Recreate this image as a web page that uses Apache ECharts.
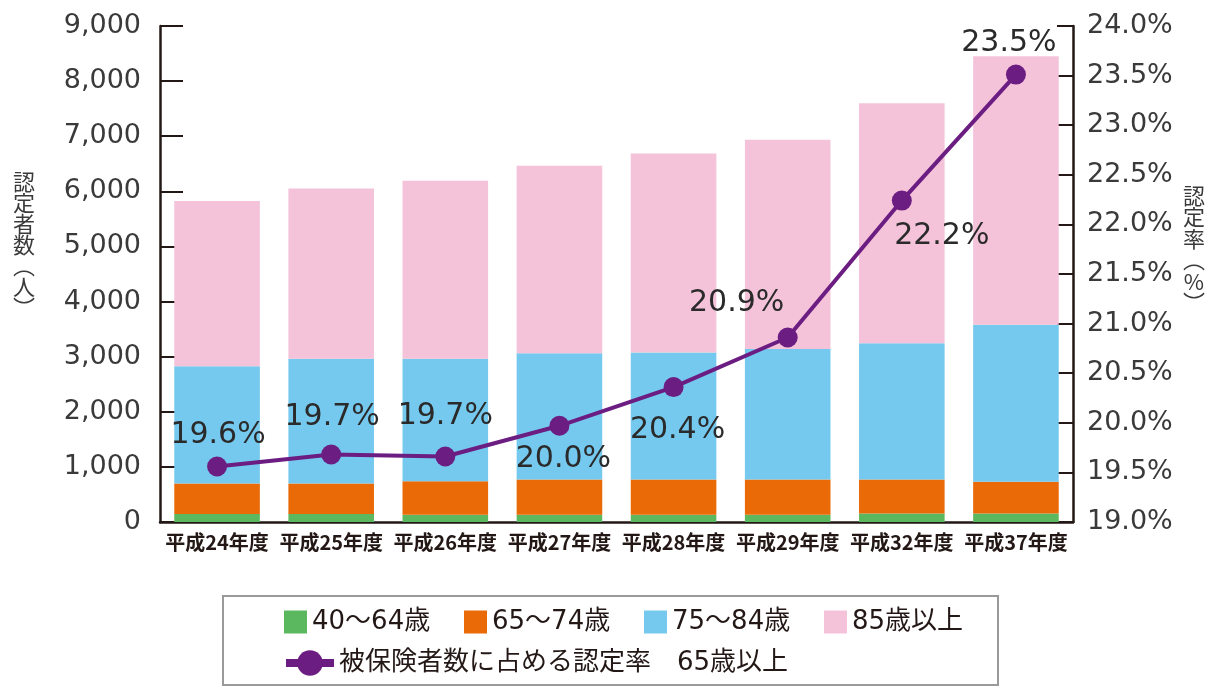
<!DOCTYPE html>
<html>
<head>
<meta charset="utf-8">
<script src="https://cdn.jsdelivr.net/npm/echarts@6/dist/echarts.min.js"></script>
<style>
  html, body { margin: 0; padding: 0; background: #fff; }
  #chart { width: 1205px; height: 687px; }
</style>
</head>
<body>
<div id="chart"></div>
<script>
// 年度
const years = ['平成24年度', '平成25年度', '平成26年度', '平成27年度', '平成28年度', '平成29年度', '平成32年度', '平成37年度']
// 認定者数（人）
const age40to64 = [145, 145, 132, 132, 132, 132, 155, 155]
const age65to74 = [555, 555, 606, 637, 637, 637, 614, 576]
const age75to84 = [2125, 2263, 2225, 2294, 2306, 2369, 2475, 2850]
const age85plus = [3000, 3087, 3231, 3400, 3613, 3800, 4356, 4869]
// 被保険者数に占める認定率 65歳以上（%）
const rate65plus = [19.56, 19.68, 19.66, 19.97, 20.36, 20.86, 22.24, 23.51]
// 軸
const countAxis = { min: 0, max: 9000, step: 1000 }
const rateAxis = { min: 19, max: 24, step: 0.5 }

const seriesNames = ['40～64歳', '65～74歳', '75～84歳', '85歳以上']
const lineName = '被保険者数に占める認定率　65歳以上'

const numFont = 'DejaVu Sans'
const jpFont = 'Noto Sans CJK JP'
const dark = '#231815'

// ラベルの位置ずらし
const rateLabelShift = [[1, -31], [1, -37], [0, -40], [4, 33], [4, 43], [-51, -34], [40, 36], [-7, -31]]

const chart = echarts.init(document.getElementById('chart'))

function barSeries (name, data, color) {
  return {
    name: name,
    type: 'bar',
    stack: 'count',
    barWidth: '75%',
    data: data,
    itemStyle: { color: color },
    emphasis: { disabled: true }
  }
}

chart.setOption({
  animation: false,
  backgroundColor: '#fff',
  grid: { left: 160, right: 132, top: 26, bottom: 165 },
  xAxis: {
    type: 'category',
    data: years,
    axisLine: { lineStyle: { color: dark, width: 2.5 } },
    axisTick: { inside: true, length: 13, lineStyle: { color: dark, width: 2 } },
    axisLabel: {
      interval: 0,
      margin: 10,
      color: dark,
      fontFamily: jpFont,
      fontWeight: 'bold',
      fontSize: 20
    }
  },
  yAxis: [{
    type: 'value',
    min: countAxis.min,
    max: countAxis.max,
    interval: countAxis.step,
    splitLine: { show: false },
    axisLine: { show: true, lineStyle: { color: dark, width: 2.5 } },
    axisTick: { show: true, inside: true, length: 23, lineStyle: { color: dark, width: 2 } },
    axisLabel: {
      margin: 19,
      color: '#3a3a3a',
      fontFamily: numFont,
      fontSize: 27,
      formatter: function (v) { return v.toLocaleString('en-US') }
    }
  }, {
    type: 'value',
    min: rateAxis.min,
    max: rateAxis.max,
    interval: rateAxis.step,
    splitLine: { show: false },
    axisLine: { show: true, lineStyle: { color: dark, width: 2.5 } },
    axisTick: { show: true, inside: true, length: 16, lineStyle: { color: dark, width: 2 } },
    axisLabel: {
      margin: 14,
      color: '#3a3a3a',
      fontFamily: numFont,
      fontSize: 27,
      formatter: function (v) { return v.toFixed(1) + '%' }
    }
  }],
  legend: [{
    data: seriesNames,
    left: 284,
    top: 609,
    padding: 0,
    icon: 'rect',
    itemWidth: 23,
    itemHeight: 23,
    itemGap: 26,
    textStyle: { width: 126, fontSize: 26, lineHeight: 26, color: dark, fontFamily: numFont + ',' + jpFont }
  }, {
    data: [lineName],
    left: 282,
    top: 647,
    padding: 0,
    itemWidth: 48,
    itemHeight: 32,
    lineStyle: { width: 8 },
    textStyle: { fontSize: 26, lineHeight: 32, color: dark, fontFamily: numFont + ',' + jpFont }
  }],
  graphic: [{
    type: 'rect',
    shape: { x: 223, y: 596, width: 775, height: 89 },
    style: { fill: 'none', stroke: '#9a9a9a', lineWidth: 2 },
    silent: true
  }, {
    type: 'text',
    x: 24,
    y: 245,
    style: {
      text: '認\n定\n者\n数\n︵\n人\n︶',
      fontSize: 22,
      fontFamily: jpFont,
      lineHeight: 21,
      fill: '#3a3a3a',
      align: 'center',
      verticalAlign: 'middle'
    }
  }, {
    type: 'text',
    x: 1194,
    y: 249,
    style: {
      text: '認\n定\n率\n︵\n%\n︶',
      fontSize: 22,
      fontFamily: jpFont,
      lineHeight: 21.5,
      fill: '#3a3a3a',
      align: 'center',
      verticalAlign: 'middle'
    }
  }],
  series: [
    barSeries(seriesNames[0], age40to64, '#5cb85f'),
    barSeries(seriesNames[1], age65to74, '#ea6a07'),
    barSeries(seriesNames[2], age75to84, '#76c9ee'),
    barSeries(seriesNames[3], age85plus, '#f4c3da'),
    {
      name: lineName,
      type: 'line',
      yAxisIndex: 1,
      z: 5,
      data: rate65plus.map(function (v, i) {
        return {
          value: v,
          label: { offset: rateLabelShift[i] }
        }
      }),
      symbol: 'circle',
      symbolSize: 20,
      itemStyle: { color: '#6c1d82' },
      lineStyle: { color: '#6c1d82', width: 4 },
      emphasis: { disabled: true },
      label: {
        show: true,
        position: 'inside',
        color: '#2a2a2a',
        fontFamily: numFont,
        fontSize: 30,
        formatter: function (p) { return p.value.toFixed(1) + '%' }
      }
    }
  ]
})
</script>
</body>
</html>
